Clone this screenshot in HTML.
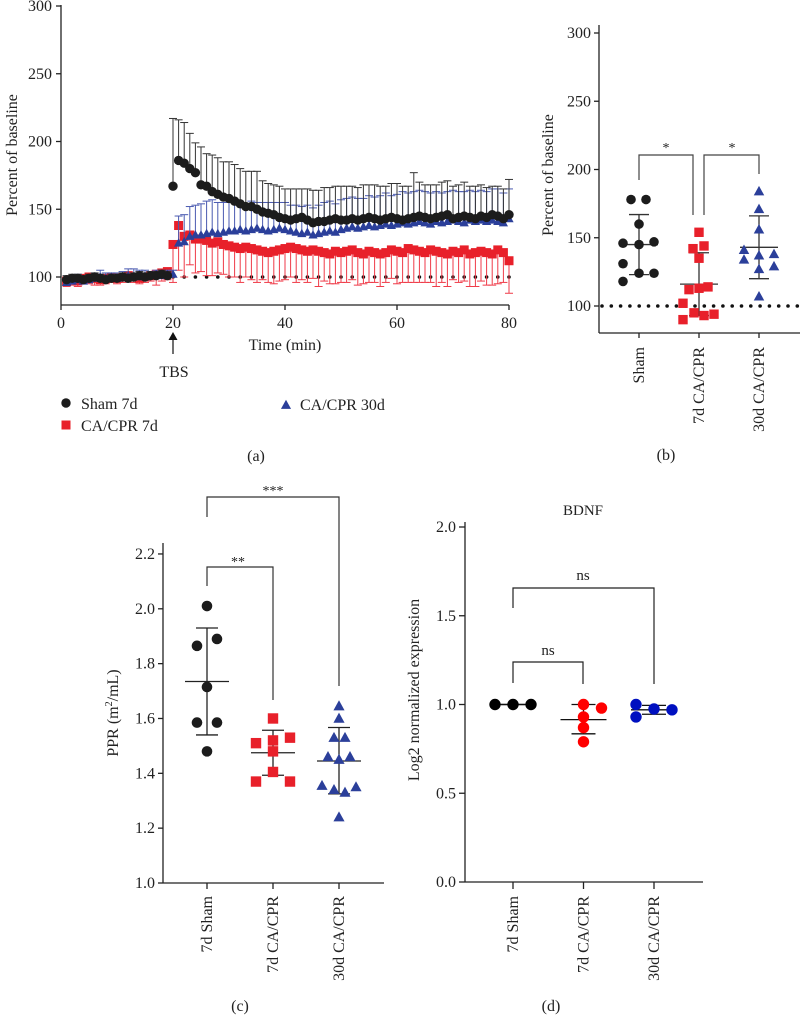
<!DOCTYPE html>
<html><head><meta charset="utf-8">
<style>
html,body{margin:0;padding:0;background:#fff;}
svg{display:block;font-family:"Liberation Serif",serif;}
</style></head>
<body>
<svg id="fig" width="800" height="1015" viewBox="0 0 800 1015" xmlns="http://www.w3.org/2000/svg"></svg>
<script>
// ---------- Panel A data ----------
const timeMin = Array.from({length:80},(_,i)=>i+1);
const aXTicks = [0,20,40,60,80];
const aYTicks = [100,150,200,250,300];
const shamSeries = [98,99,99,98,99,100,99,98,99,99,100,99,100,101,100,101,101,102,101,
 167,186,184,180,177,168,167,163,161,159,158,156,154,152,152,150,148,147,146,144,143,142,143,144,142,140,141,141,142,143,142,
 142,143,142,143,144,143,142,143,144,143,142,143,144,145,144,143,144,145,146,143,144,145,144,143,145,144,146,145,143,146];
const shamErr = [3,3,3,3,3,3,3,3,3,3,3,3,3,3,3,3,3,3,3,
 50,30,30,26,22,28,24,27,27,26,27,27,26,26,26,28,23,22,22,23,22,23,22,21,23,24,23,25,24,24,25,
 25,24,24,25,24,25,25,24,25,26,25,24,33,25,24,25,24,25,25,24,24,25,23,24,23,22,21,22,22,26];
const redSeries = [97,98,97,99,100,99,98,99,100,99,100,101,100,99,100,101,102,103,104,
 124,138,130,131,128,128,127,125,126,124,123,122,121,122,121,120,119,118,119,120,121,
 122,121,120,119,120,119,118,117,119,118,
 119,120,118,117,119,118,117,118,120,119,118,121,120,119,118,120,119,118,117,119,118,120,117,118,119,118,117,120,118,112];
const redErr = [4,4,4,4,5,5,4,4,4,4,4,4,4,4,4,4,8,6,6,
 28,33,30,22,25,24,26,24,23,22,23,22,25,22,23,24,21,22,24,23,23,
 22,25,22,23,21,26,21,22,24,22,23,22,24,22,23,22,24,22,21,24,22,25,24,23,22,24,26,22,24,21,22,23,24,25,22,24,23,25,22,24];
const blueSeries = [96,97,98,97,98,99,100,99,100,99,100,101,100,101,100,101,102,101,102,
 102,125,126,130,131,131,132,133,132,133,134,134,135,134,135,136,135,134,135,136,135,
 134,133,132,133,131,132,133,134,133,135,
 136,137,136,137,138,137,138,139,138,139,140,139,140,141,140,139,141,140,141,142,141,140,142,141,142,141,142,141,140,143];
const blueErr = [3,3,4,3,3,4,5,4,3,4,4,5,6,4,5,3,3,3,3,
 3,20,20,22,22,23,24,24,23,22,21,22,20,20,21,19,20,21,20,19,20,
 19,20,20,20,20,21,22,22,21,22,22,22,22,21,22,22,22,23,22,22,23,23,23,23,23,23,22,22,22,22,22,23,22,22,22,22,23,24,22,22];

// ---------- Panel B data ----------
const bCats = ["Sham","7d CA/CPR","30d CA/CPR"];
const bYTicks = [100,150,200,250,300];
const bSham = [178,178,160,146,145,147,131,124,124,118];
const bShamDx = [-8,7,0,-16,0,15,-16,0,15,-16];
const bRed = [154,144,142,135,114,113,112,102,95,93,94,90];
const bRedDx = [0,5,-6,0,9,0,-10,-16,-5,5,15,-16];
const bBlue = [184,171,156,141,134,137,138,127,129,107];
const bBlueDx = [0,0,0,-15,-15,0,15,0,15,0];
const bMean = [145,116,143];
const bSdHi = [167,139,166];
const bSdLo = [123,93,120];

// ---------- Panel C data ----------
const cCats = ["7d Sham","7d CA/CPR","30d CA/CPR"];
const cYTicks = [1.0,1.2,1.4,1.6,1.8,2.0,2.2];
const cSham = [2.01,1.865,1.89,1.715,1.585,1.585,1.48];
const cShamDx = [0,-10,10,0,-10,10,0];
const cRed = [1.60,1.51,1.53,1.52,1.48,1.405,1.37,1.37];
const cRedDx = [0,-17,17,0,0,0,-17,17];
const cBlue = [1.645,1.60,1.53,1.53,1.46,1.45,1.46,1.355,1.34,1.33,1.35,1.24];
const cBlueDx = [0,0,-5,6,-11,0,11,-17,-5,6,17,0];
const cMean = [1.735,1.475,1.445];
const cSdHi = [1.93,1.557,1.567];
const cSdLo = [1.54,1.393,1.325];

// ---------- Panel D data ----------
const dCats = ["7d Sham","7d CA/CPR","30d CA/CPR"];
const dYTicks = [0.0,0.5,1.0,1.5,2.0];
const dSham = [1.0,1.0,1.0];
const dShamDx = [-18,0,18];
const dRed = [1.0,0.98,0.93,0.87,0.79];
const dRedDx = [0,18,0,0,0];
const dBlue = [1.0,0.93,0.975,0.97];
const dBlueDx = [-18,-18,0,18];
const dMean = [1.0,0.915,0.97];
const dSdHi = [1.0,1.0,0.995];
const dSdLo = [1.0,0.835,0.945];

const svg = document.getElementById('fig');
const NS = 'http://www.w3.org/2000/svg';
function mk(tag, attrs, name, parent){
  const el = document.createElementNS(NS, tag);
  for (const k in attrs) el.setAttribute(k, attrs[k]);
  
  
  (parent||svg).appendChild(el);
  return el;
}
function txt(x,y,s,name,opt){
  opt = opt||{};
  const t = mk('text',{x:x,y:y,'font-size':opt.size||15,'text-anchor':opt.anchor||'middle',fill:opt.fill||'#222'},name);
  if (opt.rot) t.setAttribute('transform','rotate(-90 '+x+' '+y+')');
  t.textContent = s;
  return t;
}
function line(x1,y1,x2,y2,name,stroke,w){
  return mk('line',{x1:x1,y1:y1,x2:x2,y2:y2,stroke:stroke||'#222','stroke-width':w||1.3},name);
}
function marker(type,cx,cy,s,fill,name){
  if (type==='c') return mk('circle',{cx:cx,cy:cy,r:s,fill:fill},name);
  if (type==='s') return mk('rect',{x:cx-s,y:cy-s,width:2*s,height:2*s,fill:fill},name);
  return mk('polygon',{points:(cx)+','+(cy-s*1.1)+' '+(cx-s*1.05)+','+(cy+s*0.8)+' '+(cx+s*1.05)+','+(cy+s*0.8),fill:fill},name);
}
const BLK='#1c1c1c', RED='#e8202a', BLU='#2b3f9a';

// ================= Panel A =================
const ax = v => 61 + v*5.6;
const ay = v => 277 - (v-100)*1.355;
line(61,5,61,305,'a-y-axis');
line(61,305,509,305,'a-x-axis');
aYTicks.forEach(v=>{ line(56,ay(v),61,ay(v),'a-y-tick'); txt(52,ay(v)+5,String(v),'a-y-tick-label',{anchor:'end',size:16}); });
aXTicks.forEach(v=>{ line(ax(v),305,ax(v),310,'a-x-tick'); txt(ax(v),328,String(v),'a-x-tick-label',{size:16}); });
txt(17,155,'Percent of baseline','a-y-axis-title',{rot:true,size:16});
txt(285,350,'Time (min)','a-x-axis-title',{size:16});
for (let t=20;t<=80;t+=2.0) mk('circle',{cx:ax(t),cy:ay(100),r:1.8,fill:'#111'},'a-baseline-dot');
line(173,337,173,354,'tbs-arrow-shaft','#222',1.3);
mk('polygon',{points:'173,332 168.5,340 177.5,340',fill:'#111'},'tbs-arrow-head');
txt(174,377,'TBS','tbs-label',{size:16});
timeMin.forEach((t,i)=>{ const x=ax(t), y=ay(redSeries[i]), y2=ay(redSeries[i]-redErr[i]);
  line(x,y,x,y2,'red-error-bar','#ef3a48',1); line(x-4,y2,x+4,y2,'red-error-cap','#ef3a48',1); });
timeMin.forEach((t,i)=>marker('s',ax(t),ay(redSeries[i]),4.5,RED,'red-point'));
timeMin.forEach((t,i)=>{ const x=ax(t), y=ay(blueSeries[i]), y2=ay(blueSeries[i]+blueErr[i]);
  line(x,y,x,y2,'blue-error-bar','#4a5ab0',1); line(x-4,y2,x+4,y2,'blue-error-cap','#4a5ab0',1); });
timeMin.forEach((t,i)=>marker('t',ax(t),ay(blueSeries[i]),4.4,BLU,'blue-point'));
timeMin.forEach((t,i)=>{ const x=ax(t), y=ay(shamSeries[i]), y2=ay(shamSeries[i]+shamErr[i]);
  line(x,y,x,y2,'sham-error-bar','#333',1); line(x-4,y2,x+4,y2,'sham-error-cap','#333',1); });
timeMin.forEach((t,i)=>marker('c',ax(t),ay(shamSeries[i]),4.7,BLK,'sham-point'));
marker('c',66,403,4.7,BLK,'legend-sham-marker'); txt(81,409,'Sham 7d','legend-sham-label',{anchor:'start',size:16});
marker('s',66,425,4.5,RED,'legend-red-marker'); txt(81,431,'CA/CPR 7d','legend-red-label',{anchor:'start',size:16});
marker('t',286,405,4.8,BLU,'legend-blue-marker'); txt(300,410,'CA/CPR 30d','legend-blue-label',{anchor:'start',size:16});
txt(256,461,'(a)','panel-a-label',{size:16});

// ================= Panel B =================
const bx = i => 639 + i*60;
const by = v => 306 - (v-100)*1.365;
line(599,25,599,333,'b-y-axis');
line(599,333,800,333,'b-x-axis');
bYTicks.forEach(v=>{ line(594,by(v),599,by(v),'b-y-tick'); txt(591,by(v)+5,String(v),'b-y-tick-label',{anchor:'end',size:16}); });
bCats.forEach((c,i)=>{ line(bx(i),333,bx(i),338,'b-x-tick'); txt(bx(i)+5,347,c,'b-x-tick-label',{anchor:'end',rot:true,size:16}); });
txt(553,175,'Percent of baseline','b-y-axis-title',{rot:true,size:16});
for (let x=602;x<800;x+=9.3) mk('circle',{cx:x,cy:by(100),r:1.8,fill:'#111'},'b-baseline-dot');
[0,1,2].forEach(i=>{ line(bx(i),by(bSdHi[i]),bx(i),by(bSdLo[i]),'b-sd-bar','#333',1.3);
  line(bx(i)-10,by(bSdHi[i]),bx(i)+10,by(bSdHi[i]),'b-sd-cap','#333',1.3);
  line(bx(i)-10,by(bSdLo[i]),bx(i)+10,by(bSdLo[i]),'b-sd-cap','#333',1.3);
  line(bx(i)-19,by(bMean[i]),bx(i)+19,by(bMean[i]),'b-mean-line','#333',1.3); });
bSham.forEach((v,i)=>marker('c',bx(0)+bShamDx[i],by(v),4.8,BLK,'b-sham-point'));
bRed.forEach((v,i)=>marker('s',bx(1)+bRedDx[i],by(v),4.7,RED,'b-red-point'));
bBlue.forEach((v,i)=>marker('t',bx(2)+bBlueDx[i],by(v),5,BLU,'b-blue-point'));
mk('polyline',{points:'639,180 639,155 693,155 693,215',fill:'none',stroke:'#444','stroke-width':1.2},'b-bracket-1');
txt(666,152,'*','b-sig-1',{size:14});
mk('polyline',{points:'704,215 704,155 759,155 759,174',fill:'none',stroke:'#444','stroke-width':1.2},'b-bracket-2');
txt(732,152,'*','b-sig-2',{size:14});
txt(666,460,'(b)','panel-b-label',{size:16});

// ================= Panel C =================
const cx = i => 207 + i*66;
const cy = v => 883 - (v-1.0)*274.2;
line(163,543,163,883,'c-y-axis');
line(163,883,384,883,'c-x-axis');
cYTicks.forEach(v=>{ line(158,cy(v),163,cy(v),'c-y-tick'); txt(155,cy(v)+5,v.toFixed(1),'c-y-tick-label',{anchor:'end',size:16}); });
cCats.forEach((c,i)=>{ line(cx(i),883,cx(i),889,'c-x-tick'); txt(cx(i)+5,896,c,'c-x-tick-label',{anchor:'end',rot:true,size:16}); });
const ct = txt(118,713,'','c-y-axis-title',{rot:true,size:16});
ct.innerHTML = 'PPR (m<tspan font-size="10" dy="-6">2</tspan><tspan dy="6">/mL)</tspan>';
[0,1,2].forEach(i=>{ line(cx(i),cy(cSdHi[i]),cx(i),cy(cSdLo[i]),'c-sd-bar','#222',1.3);
  line(cx(i)-11,cy(cSdHi[i]),cx(i)+11,cy(cSdHi[i]),'c-sd-cap','#222',1.3);
  line(cx(i)-11,cy(cSdLo[i]),cx(i)+11,cy(cSdLo[i]),'c-sd-cap','#222',1.3);
  line(cx(i)-22,cy(cMean[i]),cx(i)+22,cy(cMean[i]),'c-mean-line','#222',1.3); });
cSham.forEach((v,i)=>marker('c',cx(0)+cShamDx[i],cy(v),5.3,BLK,'c-sham-point'));
cRed.forEach((v,i)=>marker('s',cx(1)+cRedDx[i],cy(v),5.2,RED,'c-red-point'));
cBlue.forEach((v,i)=>marker('t',cx(2)+cBlueDx[i],cy(v),5.3,BLU,'c-blue-point'));
mk('polyline',{points:'207,586 207,567 273,567 273,700',fill:'none',stroke:'#333','stroke-width':1.2},'c-bracket-1');
txt(238,566,'**','c-sig-1',{size:14});
mk('polyline',{points:'207,517 207,497 339,497 339,686',fill:'none',stroke:'#333','stroke-width':1.2},'c-bracket-2');
txt(273,495,'***','c-sig-2',{size:14});
txt(240,1011,'(c)','panel-c-label',{size:16});

// ================= Panel D =================
const dx = i => 513 + i*70.5;
const dy = v => 882 - v*177.5;
line(465,522,465,882,'d-y-axis');
line(465,882,703,882,'d-x-axis');
dYTicks.forEach(v=>{ line(459,dy(v),465,dy(v),'d-y-tick'); txt(456,dy(v)+5,v.toFixed(1),'d-y-tick-label',{anchor:'end',size:16}); });
dCats.forEach((c,i)=>{ line(dx(i),882,dx(i),889,'d-x-tick'); txt(dx(i)+5,896,c,'d-x-tick-label',{anchor:'end',rot:true,size:16}); });
txt(419,690,'Log2 normalized expression','d-y-axis-title',{rot:true,size:16});
txt(583,515,'BDNF','d-title',{size:15});
[0,1,2].forEach(i=>{ line(dx(i),dy(dSdHi[i]),dx(i),dy(dSdLo[i]),'d-sd-bar','#111',1.3);
  line(dx(i)-12,dy(dSdHi[i]),dx(i)+12,dy(dSdHi[i]),'d-sd-cap','#111',1.3);
  line(dx(i)-12,dy(dSdLo[i]),dx(i)+12,dy(dSdLo[i]),'d-sd-cap','#111',1.3);
  line(dx(i)-23,dy(dMean[i]),dx(i)+23,dy(dMean[i]),'d-mean-line','#111',1.3); });
dSham.forEach((v,i)=>marker('c',dx(0)+dShamDx[i],dy(v),5.7,'#000','d-sham-point'));
dRed.forEach((v,i)=>marker('c',dx(1)+dRedDx[i],dy(v),5.7,'#ff0000','d-red-point'));
dBlue.forEach((v,i)=>marker('c',dx(2)+dBlueDx[i],dy(v),5.7,'#0010c0','d-blue-point'));
mk('polyline',{points:'513,683 513,662 583,662 583,684',fill:'none',stroke:'#222','stroke-width':1.2},'d-bracket-1');
txt(548,655,'ns','d-sig-1',{size:15});
mk('polyline',{points:'513,608 513,588 654,588 654,684',fill:'none',stroke:'#222','stroke-width':1.2},'d-bracket-2');
txt(583,580,'ns','d-sig-2',{size:15});
txt(551,1011,'(d)','panel-d-label',{size:16});
</script>
</body></html>
